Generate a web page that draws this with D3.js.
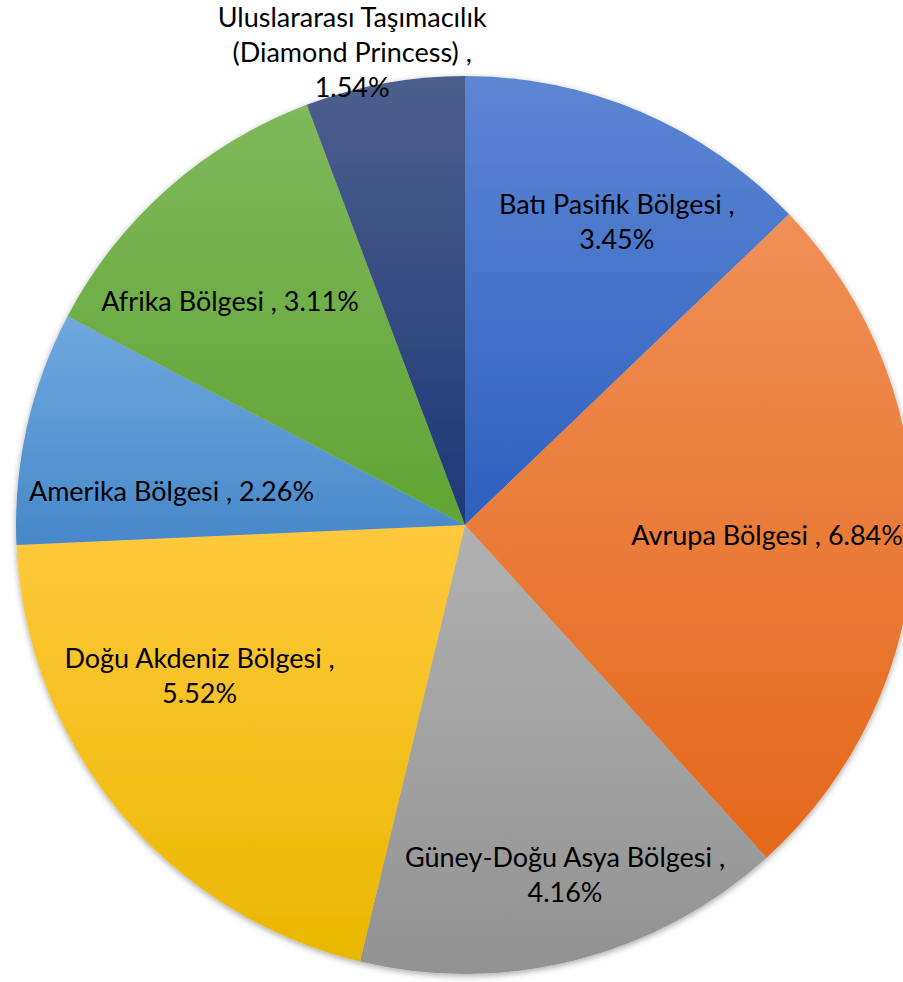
<!DOCTYPE html>
<html>
<head>
<meta charset="utf-8">
<script src="https://cdn.jsdelivr.net/npm/d3@7"></script>
<style>
  html, body { margin: 0; padding: 0; background: #ffffff; }
  svg { display: block; }
  text { font-family: Lato, "Open Sans", sans-serif; }
</style>
</head>
<body>
<svg id="chart" width="903" height="982"></svg>
<script>
// ---- data ----
const categories = [
  "Batı Pasifik Bölgesi",
  "Avrupa Bölgesi",
  "Güney-Doğu Asya Bölgesi",
  "Doğu Akdeniz Bölgesi",
  "Amerika Bölgesi",
  "Afrika Bölgesi",
  "Uluslararası Taşımacılık (Diamond Princess)"
];
const values = [3.45, 6.84, 4.16, 5.52, 2.26, 3.11, 1.54];
const valueLabels = ["3.45%", "6.84%", "4.16%", "5.52%", "2.26%", "3.11%", "1.54%"];

// ---- style / layout ----
const colorsTop = ["#5D86D3", "#F08F56", "#B1B1B1", "#FFC93D", "#70A8DE", "#7EB95B", "#4D5F8D"];
const colorsBottom = ["#2E60C0", "#E4681B", "#929292", "#EAB700", "#4788CA", "#60A433", "#1D3877"];
function labelLines(i) {
  const v = valueLabels[i];
  const name = categories[i];
  if (i === 1 || i === 4 || i === 5) return [name + " , " + v];
  if (i === 6) {
    const k = name.indexOf(" (");
    return [name.slice(0, k), name.slice(k + 1) + " ,", v];
  }
  return [name + " ,", v];
}
const labelNudge = [[25, -6], [-21, -1], [20, 37], [-16, -55], [22, 37], [-21, 19], [-55, -154]];

const W = 903, H = 982;
const cx = 465, cy = 525, R = 449;
const fontSize = 27, lineH = 35;

const svg = d3.select("#chart");
const defs = svg.append("defs");

const shadow = defs.append("filter").attr("id", "shadow")
  .attr("x", "-10%").attr("y", "-10%").attr("width", "120%").attr("height", "120%");
shadow.append("feDropShadow").attr("dx", 0).attr("dy", 2)
  .attr("stdDeviation", 3).attr("flood-color", "#000").attr("flood-opacity", 0.35);

values.forEach((v, i) => {
  const g = defs.append("linearGradient").attr("id", "grad" + i)
    .attr("x1", 0).attr("y1", 0).attr("x2", 0).attr("y2", 1);
  g.append("stop").attr("offset", "0%").attr("stop-color", colorsTop[i]);
  g.append("stop").attr("offset", "100%").attr("stop-color", colorsBottom[i]);
});

const pie = d3.pie().sort(null).value(d => d);
const arcs = pie(values);
const arc = d3.arc().innerRadius(0).outerRadius(R);
const labelArc = d3.arc().innerRadius(R * 0.72).outerRadius(R * 0.72);

const root = svg.append("g").attr("transform", `translate(${cx},${cy})`);

root.append("g").attr("filter", "url(#shadow)")
  .selectAll("path")
  .data(arcs)
  .join("path")
  .attr("d", arc)
  .attr("fill", (d, i) => `url(#grad${i})`);

root.append("g")
  .selectAll("text")
  .data(arcs)
  .join("text")
  .attr("text-anchor", "middle")
  .attr("font-size", fontSize)
  .attr("fill", "#000")
  .each(function (d, i) {
    const [x, y] = labelArc.centroid(d);
    const lx = x + labelNudge[i][0];
    const ly = y + labelNudge[i][1];
    const lines = labelLines(i);
    const t = d3.select(this);
    const startY = ly - (lines.length - 1) * lineH / 2;
    lines.forEach((ln, j) => {
      t.append("tspan")
        .attr("x", lx)
        .attr("y", startY + j * lineH)
        .attr("dy", "0.35em")
        .text(ln);
    });
  });
</script>
</body>
</html>
